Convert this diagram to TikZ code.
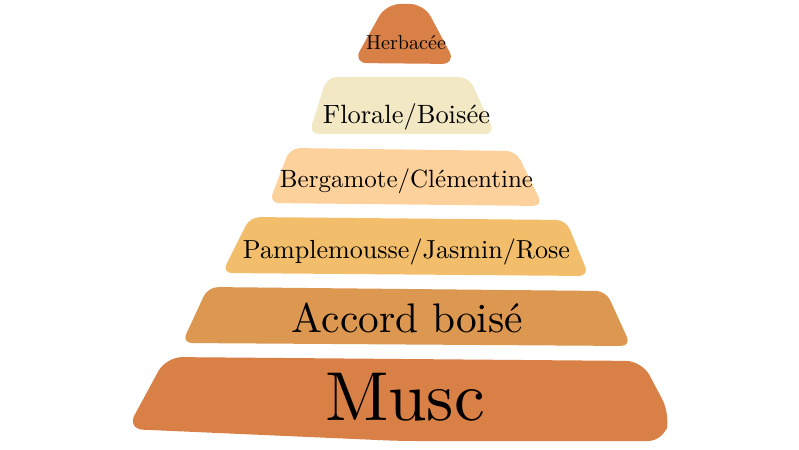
\documentclass[tikz,border=0pt]{standalone}
\usepackage{graphicx}
\definecolor{terra}{HTML}{D98046}
\definecolor{cream}{HTML}{F2E8C3}
\definecolor{peach}{HTML}{FDD19B}
\definecolor{mango}{HTML}{F2BE6B}
\definecolor{amber}{HTML}{DC9751}
\begin{document}
\begin{tikzpicture}[x=1pt,y=-1pt,
  tier/.style={rounded corners=10pt},
  lbl/.style={anchor=base,inner sep=0pt,text=black,font=\rmfamily}]
\useasboundingbox (0,0) rectangle (799,449);
% tiers
\fill[terra,rounded corners=16pt] (166,357) -- (642,361) -- (670,414) -- (664,441) -- (400,441) -- (127,429) -- cycle;
\fill[amber,tier] (208,287) -- (606,291) -- (631,346) -- (182,343) -- cycle;
\fill[mango,tier] (250,217) -- (566,220) -- (589,276) -- (222,273) -- cycle;
\fill[peach,tier] (290,148) -- (516,151) -- (543,206) -- (269,203) -- cycle;
\fill[cream,tier] (327,77) -- (469,77) -- (495,134) -- (309,134) -- cycle;
\fill[terra,rounded corners=14pt] (386,4) -- (424,4) -- (456,64) -- (353,63) -- cycle;
% labels
\node[lbl] (herb) at (406,50) {\resizebox{80pt}{!}{Herbac\'ee}};
\node[lbl] (flor) at (406.5,124) {\resizebox{167pt}{!}{Florale/Bois\'ee}};
\node[lbl] (berg) at (406.5,187) {\resizebox{253pt}{!}{Bergamote/Cl\'ementine}};
\node[lbl] (pamp) at (406.5,258) {\resizebox{327pt}{!}{Pamplemousse/Jasmin/Rose}};
\node[lbl] (acc) at (407.5,332) {\resizebox{231pt}{!}{Accord bois\'e}};
\node[lbl] (musc) at (405,420) {\resizebox{160pt}{!}{Musc}};
\end{tikzpicture}
\end{document}
